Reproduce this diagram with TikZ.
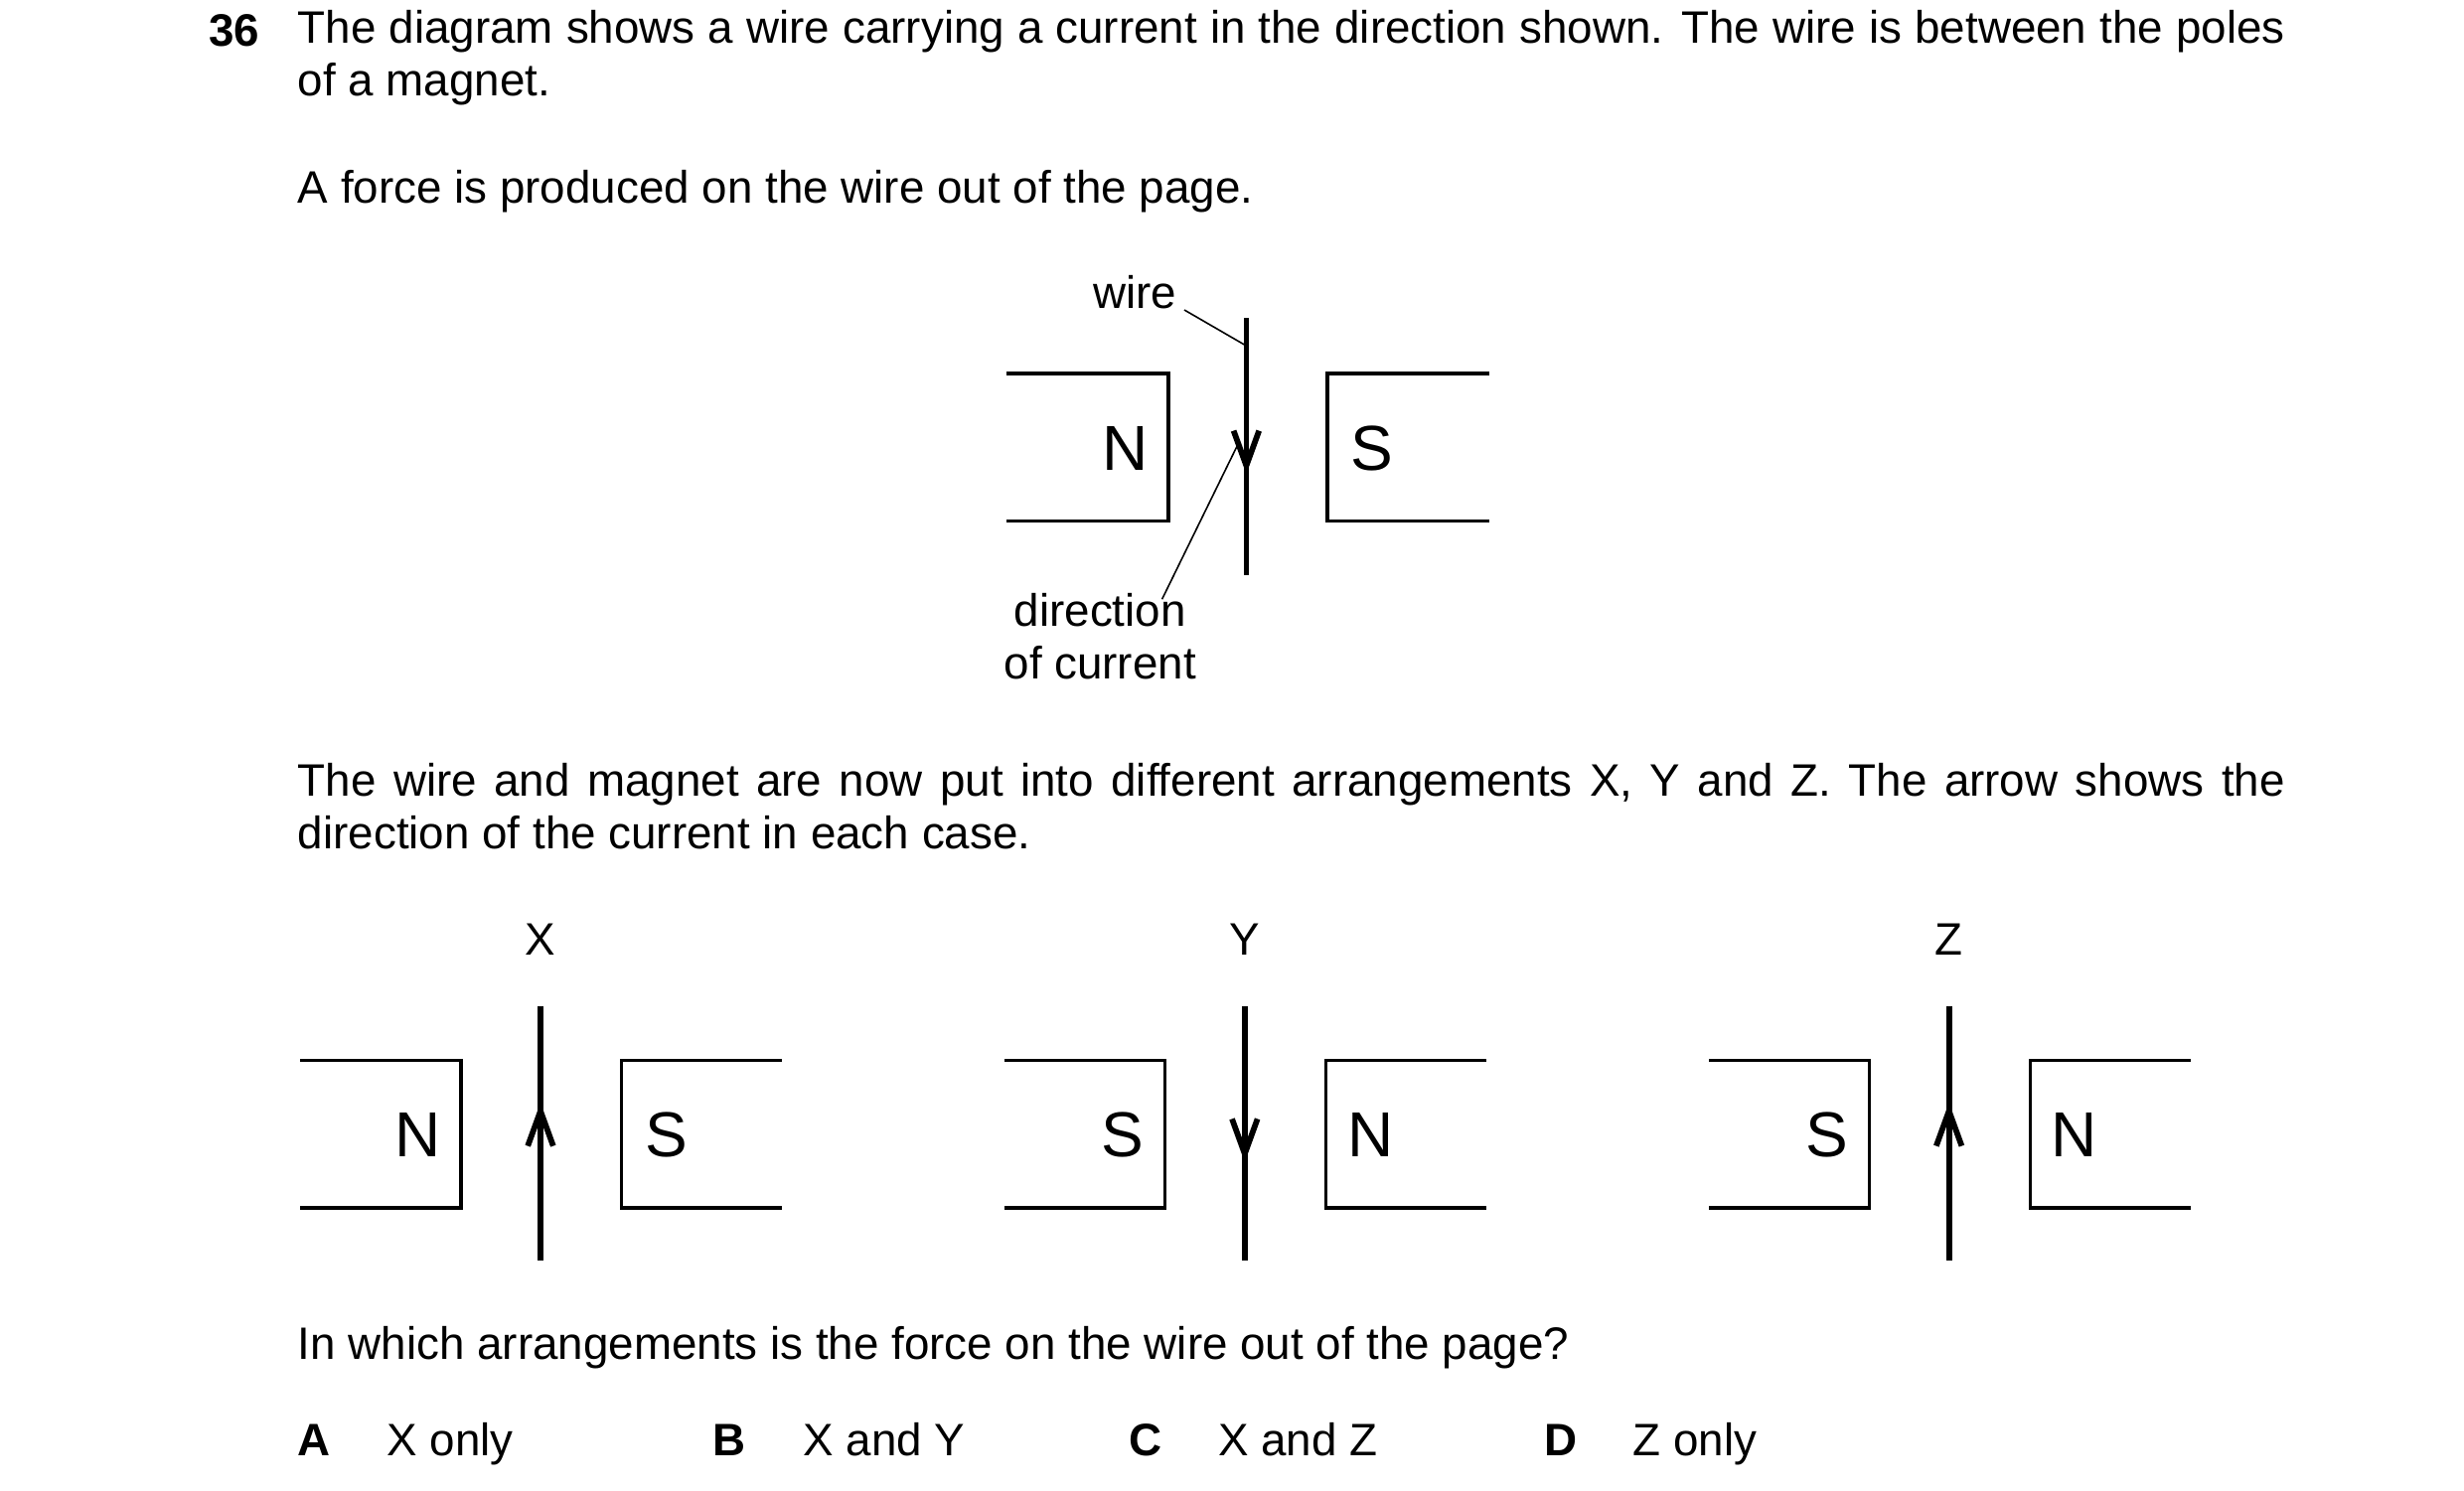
\documentclass[tikz,border=0pt]{standalone}
\usepackage{fontspec}
\setmainfont{Liberation Sans}
\begin{document}
\begin{tikzpicture}[x=0.5pt,y=-0.5pt,
  txt/.style={anchor=base west,inner sep=0pt,font=\fontsize{14.3pt}{16.5pt}\selectfont},
  pole/.style={inner sep=0pt,font=\fontsize{20pt}{24pt}\selectfont},
  box/.style={line width=1pt},
  wire/.style={line width=1.8pt},
  lead/.style={line width=0.5pt}]
\useasboundingbox (0,0) rectangle (1550,937.5);
\fill[white] (0,0) rectangle (1550,937.5);
\node[txt,font=\fontsize{14.3pt}{16.5pt}\selectfont\bfseries] (q) at (131,29) {36};
\node[txt,anchor=north west,text width=625pt,align=justify] (p1) at (187,6)
 {The diagram shows a wire carrying a current in the direction shown. The wire is between the poles of a magnet.};
\node[txt] (p2) at (187,128) {A force is produced on the wire out of the page.};
% top diagram
\draw[box] (633,235)--(735,235)--(735,328)--(633,328);
\draw[box] (937,235)--(835,235)--(835,328)--(937,328);
\node[pole] (tn) at (708,282) {N};
\node[pole] (ts) at (863,282) {S};
\coordinate (tw1) at (784,200); \coordinate (tw2) at (784,362);
\draw[wire] (tw1)--(tw2);
\draw[wire] (776,271)--(784,293)--(792,271);
\node[txt,anchor=base] (lw) at (714,194) {wire};
\draw[lead] (745,195)--(783,217);
\node[txt,anchor=north,align=center] (ld) at (692,373) {direction\\of current};
\draw[lead] (731,377)--(779,279);
\node[txt,anchor=north west,text width=625pt,align=justify] (p3) at (187,480)
 {The wire and magnet are now put into different arrangements X, Y and Z. The arrow shows the direction of the current in each case.};
% X
\node[txt,anchor=base] (lx) at (340,601) {X};
\draw[box] (189,667)--(290,667)--(290,760)--(189,760);
\draw[box] (492,667)--(391,667)--(391,760)--(492,760);
\node[pole] (xn) at (263,714) {N};
\node[pole] (xs) at (419,714) {S};
\draw[wire] (340,633)--(340,793);
\draw[wire] (332,721)--(340,699)--(348,721);
% Y
\node[txt,anchor=base] (ly) at (783,601) {Y};
\draw[box] (632,667)--(733,667)--(733,760)--(632,760);
\draw[box] (935,667)--(834,667)--(834,760)--(935,760);
\node[pole] (ys) at (706,714) {S};
\node[pole] (yn) at (862,714) {N};
\draw[wire] (783,633)--(783,793);
\draw[wire] (775,704)--(783,726)--(791,704);
% Z
\node[txt,anchor=base] (lz) at (1226,601) {Z};
\draw[box] (1075,667)--(1176,667)--(1176,760)--(1075,760);
\draw[box] (1378,667)--(1277,667)--(1277,760)--(1378,760);
\node[pole] (zs) at (1149,714) {S};
\node[pole] (zn) at (1305,714) {N};
\draw[wire] (1226,633)--(1226,793);
\draw[wire] (1218,721)--(1226,699)--(1234,721);
\node[txt] (p4) at (187,855) {In which arrangements is the force on the wire out of the page?};
\node[txt,font=\fontsize{14.3pt}{16.5pt}\selectfont\bfseries] (a) at (187,916) {A};
\node[txt] (a1) at (243,916) {X only};
\node[txt,font=\fontsize{14.3pt}{16.5pt}\selectfont\bfseries] (b) at (448,916) {B};
\node[txt] (b1) at (505,916) {X and Y};
\node[txt,font=\fontsize{14.3pt}{16.5pt}\selectfont\bfseries] (c) at (710,916) {C};
\node[txt] (c1) at (766,916) {X and Z};
\node[txt,font=\fontsize{14.3pt}{16.5pt}\selectfont\bfseries] (d) at (971,916) {D};
\node[txt] (d1) at (1027,916) {Z only};
\end{tikzpicture}
\end{document}
